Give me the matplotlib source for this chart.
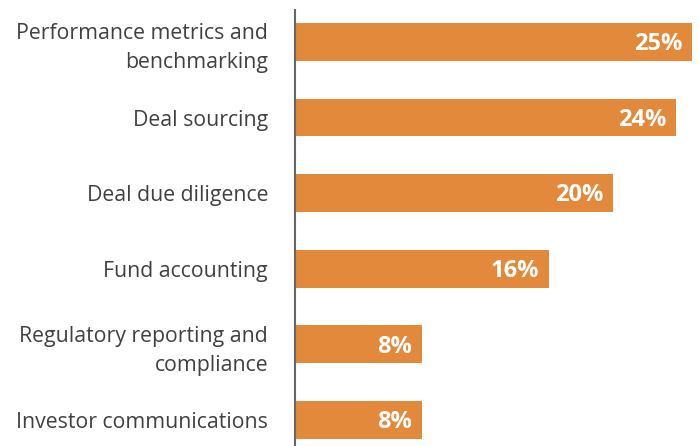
import matplotlib
matplotlib.use("Agg")
import matplotlib.pyplot as plt

categories = ["Performance metrics and\nbenchmarking", "Deal sourcing", "Deal due diligence",
              "Fund accounting", "Regulatory reporting and\ncompliance", "Investor communications"]
values = [25, 24, 20, 16, 8, 8]
value_labels = ["25%", "24%", "20%", "16%", "8%", "8%"]

plt.rcParams['font.family'] = ['Open Sans', 'DejaVu Sans']

fig = plt.figure(figsize=(6.99, 4.46), dpi=100)
ax = fig.add_axes([294.5/699, 0, (692-294.5)/699, 436/446])
y = list(range(len(categories)))
ax.barh(y, values, height=0.5, color="#E3893B")
ax.set_xlim(0, 25)
ax.set_ylim(5.344, -0.423)
for yi, v, lab in zip(y, values, value_labels):
    ax.text(v - 0.6, yi + 0.03, lab, ha="right", va="center", color="white",
            fontsize=17, fontweight="bold")
ax.set_yticks(y)
ax.set_yticklabels(categories, fontsize=15.3, color="#404040", linespacing=1.5)
ax.tick_params(axis="y", length=0, pad=19)
ax.set_xticks([])
for s in ["top", "right", "bottom"]:
    ax.spines[s].set_visible(False)
ax.spines["left"].set_color("#666666")
ax.spines["left"].set_linewidth(1.5)
fig.savefig("out.png", dpi=100)
